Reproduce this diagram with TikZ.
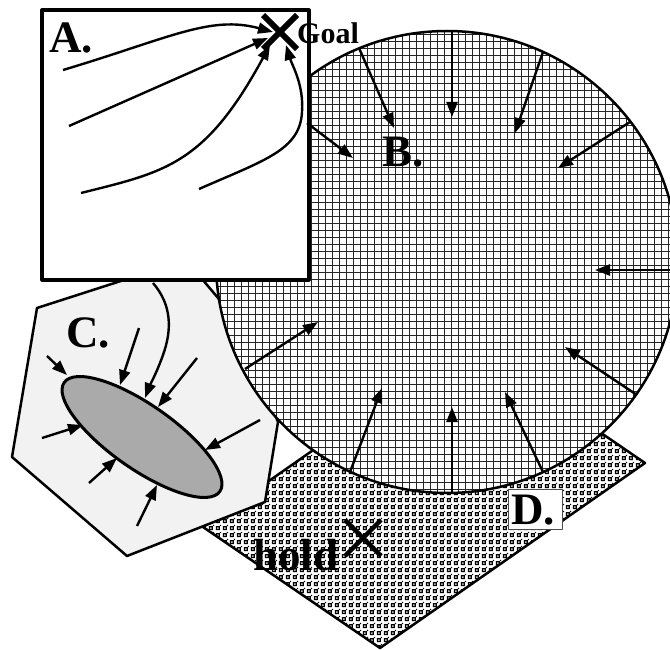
\documentclass[tikz,border=0pt]{standalone}
\usepackage{fontspec}
\setmainfont{Liberation Serif}
\usetikzlibrary{arrows.meta,patterns}

\pgfdeclarepatternformonly{holdchecker}{\pgfpointorigin}{\pgfpoint{6.7pt}{6.7pt}}{\pgfpoint{6.7pt}{6.7pt}}{%
  \pgfsetlinewidth{1.4pt}%
  \pgfpathrectangle{\pgfpoint{1.5pt}{1.5pt}}{\pgfpoint{3pt}{3pt}}%
  \pgfusepath{stroke}%
  \pgfpathrectangle{\pgfpoint{5.2pt}{5.2pt}}{\pgfpoint{1.2pt}{1.2pt}}%
  \pgfusepath{fill}%
}
\definecolor{cgray}{RGB}{242,242,242}
\definecolor{egray}{RGB}{170,170,170}

\begin{document}
\begin{tikzpicture}[x=1pt,y=-1pt,line join=round,
  lbl/.style={font=\fontsize{45}{45}\selectfont\bfseries,inner sep=0pt,anchor=base west},
  goalfont/.style={font=\fontsize{30}{30}\selectfont\bfseries,inner sep=0pt,anchor=base west},
  arr/.style={line width=2.4pt,-{Triangle[length=15pt,width=11pt]}},
  outline/.style={line width=2.5pt},
  gridline/.style={line width=1.3pt,black!85},
  xmark/.style={line width=6pt}]
\fill[white] (0,0) rectangle (670,650);
\useasboundingbox (0,0) rectangle (670,650);

% D region
\draw[outline,pattern=holdchecker] (203,527) -- (380,648) -- (645,463) -- (468,342) -- cycle;

% C region
\draw[outline,fill=cgray] (37,308) -- (186,260) -- (240,324) -- (278,422) -- (265,502) -- (127,556) -- (12,457) -- cycle;
\draw[line width=3pt,fill=egray,rotate around={-35:(142,437)}] (142,437) ellipse [x radius=95pt,y radius=32pt];
\draw[arr] (47,356) -- (67,375);
\draw[arr] (139,328) -- (120,385);
\draw[arr] (197,358) -- (158,407);
\draw[arr] (260,420) -- (205,450);
\draw[arr] (42,438) -- (83,425);
\draw[arr] (89,483) -- (117,458);
\draw[arr] (137,526) -- (157,485);
\draw[arr] (153,283) .. controls (172,305) and (172,330) .. (163,355) .. controls (157,372) and (150,385) .. (145,398);

% B region
\fill[white] (447,262) circle (231pt);
\begin{scope}
  \clip (447,262) circle (231pt);
  \foreach \i in {0,...,68} {
    \draw[gridline] ({213.5+7*\i},25) -- ({213.5+7*\i},500);
    \draw[gridline] (210,{27.5+7*\i}) -- (685,{27.5+7*\i});
  }
\end{scope}
\draw[outline] (447,262) circle (231pt);
\draw[arr] (359,48) -- (394,128);
\draw[arr] (452,30) -- (452,117);
\draw[arr] (543,52) -- (515,133);
\draw[arr] (630,122) -- (558,168);
\draw[arr] (675,270) -- (595,270);
\draw[arr] (245,369) -- (318,322);
\draw[arr] (350,472) -- (382,388);
\draw[arr] (452,492) -- (452,407);
\draw[arr] (543,472) -- (505,392);
\draw[arr] (637,395) -- (565,347);

% A region
\draw[line width=3.2pt,fill=white] (42,10) rectangle (309,280);
\draw[arr] (307,123) -- (353,158);
\draw[arr] (63,70) .. controls (170,38) and (210,15) .. (273,32);
\draw[arr] (69,126) -- (268,38);
\draw[arr] (81,193) .. controls (165,172) and (205,165) .. (270,45);
\draw[arr] (199,189) .. controls (265,160) and (300,150) .. (302,112) .. controls (304,85) and (292,65) .. (286,45);
\draw[xmark] (263,15) -- (297,49) (297,15) -- (263,49);

% labels
\node[lbl] (labA) at (49,53) {A.};
\node[goalfont] (goal) at (297,44) {Goal};
\node[lbl] (labB) at (382,167) {B.};
\node[lbl] (labC) at (66,347) {C.};
\draw[fill=white,draw=black!70,line width=0.8pt] (508,489) rectangle (562,529);
\node[lbl] (labD) at (511,524) {D.};
\node[lbl] (hold) at (253,570) {hold};
\draw[line width=4.5pt] (345,520) -- (381,556) (381,520) -- (345,556);
\end{tikzpicture}
\end{document}
